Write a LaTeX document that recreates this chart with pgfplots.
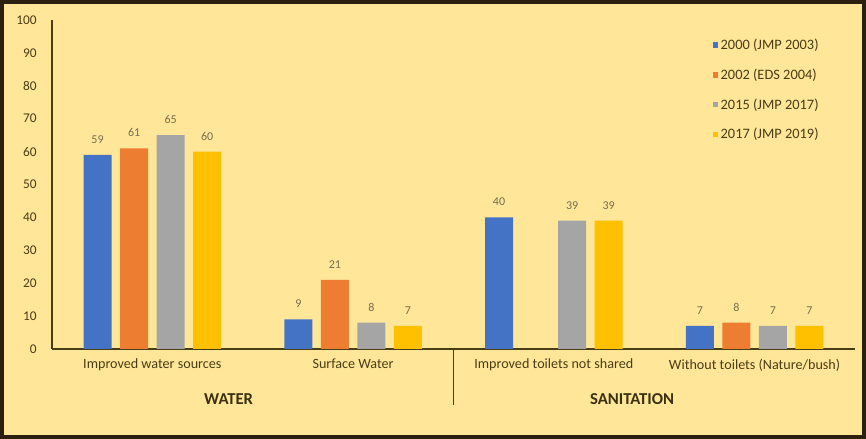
\documentclass[border=0pt]{standalone}
\usepackage{fontspec}
\setmainfont{Carlito}
\usepackage{pgfplots}
\pgfplotsset{compat=1.18}
\usetikzlibrary{backgrounds}
\definecolor{bg}{HTML}{FFE699}
\definecolor{frame}{HTML}{2B2010}
\definecolor{ink}{HTML}{4A3C14}
\definecolor{cBlue}{HTML}{4472C4}
\definecolor{cOrange}{HTML}{ED7D31}
\definecolor{cGray}{HTML}{A5A5A5}
\definecolor{cGold}{HTML}{FFC000}
\begin{document}
\begin{tikzpicture}
\begin{axis}[
  scale only axis, width=602.25pt, height=246.75pt,
  xmin=-0.5, xmax=3.5, ymin=0, ymax=100,
  ybar=6.4pt, bar width=21pt,
  axis lines*=left,
  axis line style={draw=ink, line width=1.1pt},
  xtick={0,1,2,3},
  xticklabels={Improved water sources, Surface Water, Improved toilets not shared, Without toilets (Nature/bush)},
  major tick length=0pt,
  ytick={0,10,...,100},
  tick label style={text=ink, font=\fontsize{10}{12}\selectfont},
  /pgf/number format/assume math mode=true,
  yticklabel style={xshift=-8pt},
  xticklabel style={yshift=-4pt, font=\fontsize{10.6}{12}\selectfont},
  nodes near coords,
  every node near coord/.append style={font=\fontsize{9}{10}\selectfont, text=ink!75, yshift=5pt},
  legend style={at={(axis cs:2.77,96)}, anchor=north west, draw=none, fill=none,
    font=\fontsize{10.8}{12}\selectfont, text=ink, row sep=9pt},
  legend cell align=left,
  legend image code/.code={\fill[#1] (0cm,-0.07cm) rectangle (0.14cm,0.07cm);},
  clip=false,
]
\addplot[fill=cBlue, draw=none] coordinates {(0,59) (1,9) (2,40) (3,7)};
\addlegendentry{2000 (JMP 2003)}
\addplot[fill=cOrange, draw=none] coordinates {(0,61) (1,21) (3,8)};
\addlegendentry{2002 (EDS 2004)}
\addplot[fill=cGray, draw=none] coordinates {(0,65) (1,8) (2,39) (3,7)};
\addlegendentry{2015 (JMP 2017)}
\addplot[fill=cGold, draw=none] coordinates {(0,60) (1,7) (2,39) (3,7)};
\addlegendentry{2017 (JMP 2019)}
\draw[ink, line width=1.1pt] (axis cs:1.5,0) -- (axis cs:1.5,-17);
\node[font=\bfseries\fontsize{12.5}{14}\selectfont, text=ink!80!black] at (axis cs:0.38,-15.2) {WATER};
\node[font=\bfseries\fontsize{12.5}{14}\selectfont, text=ink!80!black] at (axis cs:2.39,-15.2) {SANITATION};
\coordinate (bl) at (axis cs:-0.759,-27.36);
\coordinate (tr) at (axis cs:3.555,106.08);
\end{axis}
\begin{scope}[on background layer]
\fill[bg] (bl) rectangle (tr);
\end{scope}
\draw[frame, line width=3pt] ([shift={(1.5pt,1.5pt)}]bl) rectangle ([shift={(-1.5pt,-1.5pt)}]tr);
\end{tikzpicture}
\end{document}
